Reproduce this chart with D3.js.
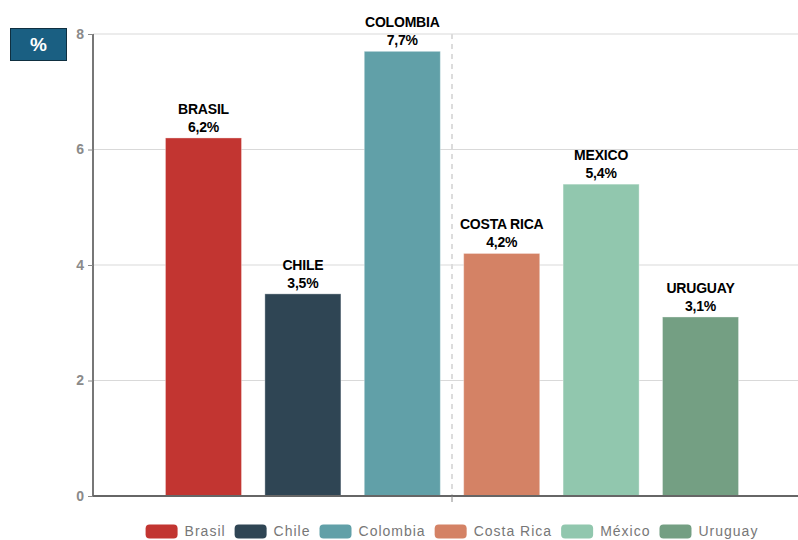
<!DOCTYPE html>
<html><head><meta charset="utf-8">
<script src="https://cdn.jsdelivr.net/npm/d3@7"></script>
<style>body{margin:0;background:#fff}svg{display:block}</style>
</head><body>
<svg id="c" width="798" height="540"></svg>
<script>
const categories = ["Brasil","Chile","Colombia","Costa Rica","México","Uruguay"];
const labelNames = ["BRASIL","CHILE","COLOMBIA","COSTA RICA","MEXICO","URUGUAY"];
const values = [6.2, 3.5, 7.7, 4.2, 5.4, 3.1];
const colors = ["#c23531","#2f4554","#61a0a8","#d48265","#91c7ae","#749f83"];
const yTicks = [0,2,4,6,8];
const unitLabel = "%";

(function () {
const svg = d3.select("#c");
const pL = 93, pR = 811, pT = 34, pB = 496;
const x = d3.scaleBand().domain(categories).range([pL, pR]).paddingInner(0.235).paddingOuter(0.729);
const y = d3.scaleLinear().domain([0, 8]).range([pB, pT]);

// gridlines
svg.append("g").selectAll("line").data(yTicks.filter(d => d > 0)).join("line")
  .attr("x1", pL).attr("x2", 798).attr("y1", d => y(d)).attr("y2", d => y(d))
  .attr("stroke", "#d9d9d9").attr("stroke-width", 1);

// center dashed line
const mid = (pL + pR) / 2;
svg.append("line").attr("x1", mid).attr("x2", mid).attr("y1", pT).attr("y2", pB)
  .attr("stroke", "#dcdcdc").attr("stroke-width", 2).attr("stroke-dasharray", "5,5");

// bars
svg.append("g").selectAll("rect").data(values).join("rect")
  .attr("x", (d, i) => x(categories[i])).attr("width", x.bandwidth())
  .attr("y", d => y(d)).attr("height", d => y(0) - y(d))
  .attr("fill", (d, i) => colors[i])
  .attr("stroke", "rgba(255,255,255,0.35)").attr("stroke-width", 1);

// labels
const lab = svg.append("g").attr("font-family", "'Liberation Sans', Arial, sans-serif")
  .attr("font-weight", "bold").attr("font-size", 14).attr("fill", "#000").attr("text-anchor", "middle")
  .style("letter-spacing", "-0.2px");
values.forEach((v, i) => {
  const cx = x(categories[i]) + x.bandwidth() / 2;
  lab.append("text").attr("x", cx).attr("y", y(v) - 24).text(labelNames[i]);
  lab.append("text").attr("x", cx).attr("y", y(v) - 6).text(v.toFixed(1).replace(".", ",") + "%");
});

// y axis
const ya = svg.append("g").attr("transform", `translate(${pL},0)`)
  .call(d3.axisLeft(y).tickValues(yTicks).tickSize(5).tickPadding(4).tickFormat(d3.format("d")));
ya.select(".domain").attr("stroke", "#777").attr("stroke-width", 2).attr("d", `M0,${pT}V${pB}`);
ya.selectAll(".tick line").attr("stroke", "#888");
ya.selectAll(".tick text").attr("fill", "#8a8a8a").attr("font-size", 14).attr("font-weight", "bold")
  .attr("font-family", "'Liberation Sans', Arial, sans-serif");

// x axis
svg.append("line").attr("x1", pL).attr("x2", 798).attr("y1", pB).attr("y2", pB)
  .attr("stroke", "#666").attr("stroke-width", 2);
svg.append("line").attr("x1", mid).attr("x2", mid).attr("y1", pB).attr("y2", pB + 6)
  .attr("stroke", "#888").attr("stroke-width", 1);

// unit box
svg.append("rect").attr("x", 10.5).attr("y", 28.5).attr("width", 56).attr("height", 32)
  .attr("fill", "#1a5f82").attr("stroke", "#0f2f40").attr("stroke-width", 1);
svg.append("text").attr("x", 38.5).attr("y", 51).attr("text-anchor", "middle")
  .attr("fill", "#fff").attr("font-weight", "bold").attr("font-size", 19)
  .attr("font-family", "'Liberation Sans', Arial, sans-serif").text(unitLabel);

// legend
const leg = svg.append("g");
let cur = 0;
categories.forEach((c, i) => {
  const g = leg.append("g");
  g.append("rect").attr("x", 0).attr("y", -7).attr("width", 32).attr("height", 14).attr("rx", 4)
    .attr("fill", colors[i]);
  const t = g.append("text").attr("x", 39).attr("y", 4.5).attr("fill", "#777").attr("font-size", 14)
    .style("letter-spacing", "1px")
    .attr("font-family", "'Liberation Sans', Arial, sans-serif").text(c);
  const w = 39 + t.node().getComputedTextLength();
  g.attr("transform", `translate(${cur},0)`);
  cur += w + 9;
});
const totalW = cur - 9;
leg.attr("transform", `translate(${mid - totalW / 2},531.5)`);
})();
</script>
</body></html>
